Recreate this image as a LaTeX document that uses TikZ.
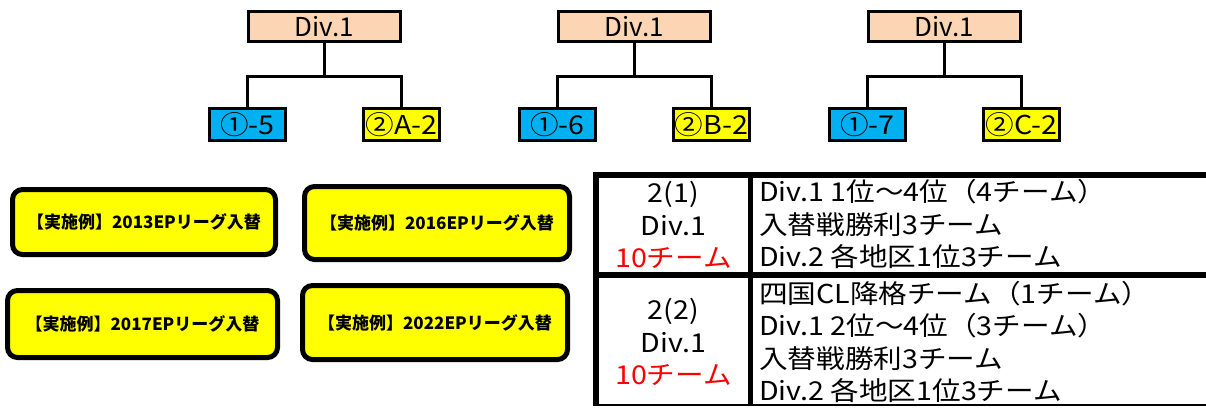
\documentclass[tikz,border=0pt]{standalone}
\usepackage{fontspec}
\setmainfont{Noto Sans CJK JP}
\newfontfamily\widejp{Noto Sans CJK JP}[FakeStretch=1.1]
\usepackage{tikz}
\usetikzlibrary{calc}
\definecolor{peach}{HTML}{FCD5B4}
\definecolor{teamblue}{HTML}{00B0F0}
\definecolor{teamyellow}{HTML}{FFFF00}
\definecolor{teamred}{HTML}{FF0000}
\tikzset{
	divbox/.style={draw, line width=2.8pt, fill=peach, minimum width=152pt, minimum height=30pt, inner sep=0pt, font=\fontsize{26}{26}\selectfont},
	teambox/.style={draw, line width=2.8pt, minimum width=76pt, minimum height=32pt, inner sep=0pt, font=\widejp\fontsize{26}{26}\selectfont},
	linkline/.style={line width=2.6pt},
	casebtn/.style={draw, line width=5pt, fill=teamyellow, rounded corners=10pt, inner sep=0pt, font=\bfseries\fontsize{17}{17}\selectfont},
	cellhead/.style={align=center, inner sep=0pt, font=\widejp\fontsize{26}{32.5}\selectfont},
	celltext/.style={anchor=west, align=left, inner sep=0pt, font=\widejp\fontsize{26}{32.5}\selectfont}
}

\begin{document}
\begin{tikzpicture}[x=1pt, y=-1pt]
		%%%%% START %%%%%
		\useasboundingbox (0, 0) rectangle (1206, 407);
		
		% tree 1
		\node[divbox] (d1) at (324.5, 26.5) {Div.1};
		\node[teambox, fill=teamblue] (a1) at (247.5, 124.5) {①-5};
		\node[teambox, fill=teamyellow] (b1) at (401.5, 124.5) {②A-2};
		\draw[linkline] (d1.south) -- ++(0, 33.5) coordinate (j1);
		\draw[linkline] (a1.north) |- (j1) -| (b1.north);
		
		% tree 2
		\node[divbox] (d2) at (634.5, 26.5) {Div.1};
		\node[teambox, fill=teamblue] (a2) at (557.5, 124.5) {①-6};
		\node[teambox, fill=teamyellow] (b2) at (711.5, 124.5) {②B-2};
		\draw[linkline] (d2.south) -- ++(0, 33.5) coordinate (j2);
		\draw[linkline] (a2.north) |- (j2) -| (b2.north);
		
		% tree 3
		\node[divbox] (d3) at (944.5, 26.5) {Div.1};
		\node[teambox, fill=teamblue] (a3) at (867.5, 124.5) {①-7};
		\node[teambox, fill=teamyellow] (b3) at (1021.5, 124.5) {②C-2};
		\draw[linkline] (d3.south) -- ++(0, 33.5) coordinate (j3);
		\draw[linkline] (a3.north) |- (j3) -| (b3.north);
		
		% buttons
		\node[casebtn, minimum width=263pt, minimum height=65pt] (e2013) at (144, 222) {【実施例】2013EPリーグ入替};
		\node[casebtn, minimum width=265pt, minimum height=73pt] (e2016) at (437, 223) {【実施例】2016EPリーグ入替};
		\node[casebtn, minimum width=270pt, minimum height=67pt] (e2017) at (142.5, 324) {【実施例】2017EPリーグ入替};
		\node[casebtn, minimum width=265pt, minimum height=74pt] (e2022) at (435, 322.5) {【実施例】2022EPリーグ入替};
		
		% table
		\draw[line width=6pt] (596, 172) -- (596, 406);
		\draw[line width=6pt] (593, 175) -- (1210, 175);
		\draw[line width=5pt] (750.5, 175) -- (750.5, 406);
		\draw[line width=6pt] (596, 275) -- (1210, 275);
		\draw[line width=2pt] (596, 405) -- (1210, 405);
		
		\node[cellhead] (h1) at (673.5, 225) {2(1)\\Div.1\\\textcolor{teamred}{10チーム}};
		\node[cellhead] (h2) at (673.5, 342) {2(2)\\Div.1\\\textcolor{teamred}{10チーム}};
		\node[celltext] (t1) at (759, 224) {Div.1 1位～4位（4チーム）\\入替戦勝利3チーム\\Div.2 各地区1位3チーム};
		\node[celltext] (t2) at (759, 342) {四国CL降格チーム（1チーム）\\Div.1 2位～4位（3チーム）\\入替戦勝利3チーム\\Div.2 各地区1位3チーム};
		
		%%%%% END %%%%%
	\end{tikzpicture}
\end{document}
